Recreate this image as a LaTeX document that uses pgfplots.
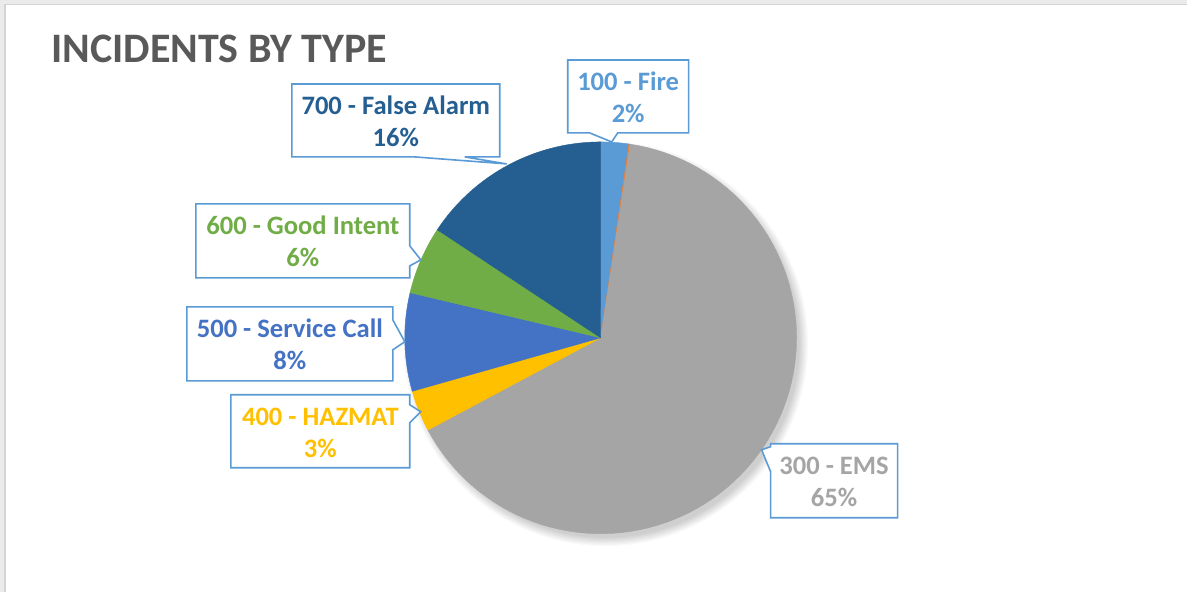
\documentclass[border=0pt]{standalone}
\usepackage{pgfplots}
\pgfplotsset{compat=1.18}
\usepackage{fontspec}
\setmainfont{Carlito}

\definecolor{cFire}{HTML}{5B9BD5}
\definecolor{cOther}{HTML}{ED7D31}
\definecolor{cEMS}{HTML}{A5A5A5}
\definecolor{cHaz}{HTML}{FFC000}
\definecolor{cServ}{HTML}{4472C4}
\definecolor{cGood}{HTML}{70AD47}
\definecolor{cFalse}{HTML}{255E91}
\definecolor{cTitle}{HTML}{595959}
\definecolor{cBox}{HTML}{5B9BD5}

% pie in pixel units: centre (601,338), radius 196, clockwise from 12 o'clock
% #1 = start (%), #2 = end (%), #3 = colour
\newcommand{\sector}[3]{%
  \addplot[fill=#3, draw=#3, line width=0.2pt, domain=#1:#2, samples=90, variable=\t]
    ({601+196*sin(3.6*\t)}, {338-196*cos(3.6*\t)}) -- (axis cs:601,338) -- cycle;}

\tikzset{lbl/.style={anchor=base, inner sep=0pt, font=\fontsize{13.3}{16}\selectfont\bfseries}}

\begin{document}
\begin{tikzpicture}
\begin{axis}[
    scale only axis,
    width=594pt, height=296pt,
    xmin=0, xmax=1188, ymin=0, ymax=592,
    y dir=reverse,
    hide axis,
    clip=false,
]
% background and frame
\fill[white] (axis cs:0,0) rectangle (axis cs:1188,592);
\fill[black!8] (axis cs:0,0) rectangle (axis cs:1188,4);
\fill[black!8] (axis cs:0,0) rectangle (axis cs:5,592);
\draw[black!17, line width=0.6pt] (axis cs:5,592) -- (axis cs:5,4.5) -- (axis cs:1188,4.5);

% title
\node[anchor=base west, inner sep=0pt, text=cTitle,
      font=\fontsize{21}{25}\selectfont\bfseries] at (axis cs:51,63) {INCIDENTS BY TYPE};

% soft shadow, towards the lower right
\pgfplotsinvokeforeach{0,...,7}{
  \fill[black, opacity=0.025] (axis cs:606,344) circle [radius={(194+1.2*#1)*0.5pt}];
}

% sectors (start %, end %)
\sector{0}{2.3}{cFire}      % 100 - Fire
\sector{2.3}{2.4}{cOther}   % 200
\sector{2.4}{67.2}{cEMS}    % 300 - EMS
\sector{67.2}{70.6}{cHaz}   % 400 - HAZMAT
\sector{70.6}{78.7}{cServ}  % 500 - Service Call
\sector{78.7}{84.3}{cGood}  % 600 - Good Intent
\sector{84.3}{100}{cFalse}  % 700 - False Alarm

% labels
\draw[cBox, line width=0.8pt, fill=white]
  (axis cs:568,60) -- (axis cs:689,60) -- (axis cs:689,133) -- (axis cs:618,133)
  -- (axis cs:612,142) -- (axis cs:590,133) -- (axis cs:568,133) -- cycle;
\node[lbl, text=cFire] at (axis cs:628.5,91) {100 - Fire};
\node[lbl, text=cFire] at (axis cs:628.5,123) {2\%};

\draw[cBox, line width=0.8pt, fill=white]
  (axis cs:292,84) -- (axis cs:500,84) -- (axis cs:500,157) -- (axis cs:465,157)
  -- (axis cs:507,164) -- (axis cs:415,157) -- (axis cs:292,157) -- cycle;
\node[lbl, text=cFalse] at (axis cs:396,115) {700 - False Alarm};
\node[lbl, text=cFalse] at (axis cs:396,147) {16\%};

\draw[cBox, line width=0.8pt, fill=white]
  (axis cs:196,204) -- (axis cs:410,204) -- (axis cs:410,246) -- (axis cs:421,260)
  -- (axis cs:410,266) -- (axis cs:410,278) -- (axis cs:196,278) -- cycle;
\node[lbl, text=cGood] at (axis cs:303,235) {600 - Good Intent};
\node[lbl, text=cGood] at (axis cs:303,267) {6\%};

\draw[cBox, line width=0.8pt, fill=white]
  (axis cs:187,307) -- (axis cs:393,307) -- (axis cs:393,320) -- (axis cs:405,342)
  -- (axis cs:393,350) -- (axis cs:393,381) -- (axis cs:187,381) -- cycle;
\node[lbl, text=cServ] at (axis cs:290,338) {500 - Service Call};
\node[lbl, text=cServ] at (axis cs:290,370) {8\%};

\draw[cBox, line width=0.8pt, fill=white]
  (axis cs:231,395) -- (axis cs:410,395) -- (axis cs:410,405) -- (axis cs:421,412)
  -- (axis cs:410,423) -- (axis cs:410,468) -- (axis cs:231,468) -- cycle;
\node[lbl, text=cHaz] at (axis cs:320.5,426) {400 - HAZMAT};
\node[lbl, text=cHaz] at (axis cs:320.5,458) {3\%};

\draw[cBox, line width=0.8pt, fill=white]
  (axis cs:771,444) -- (axis cs:898,444) -- (axis cs:898,518) -- (axis cs:771,518)
  -- (axis cs:771,472) -- (axis cs:762,450) -- (axis cs:771,447) -- cycle;
\node[lbl, text=cEMS] at (axis cs:834.5,475) {300 - EMS};
\node[lbl, text=cEMS] at (axis cs:834.5,507) {65\%};
\end{axis}
\end{tikzpicture}
\end{document}
